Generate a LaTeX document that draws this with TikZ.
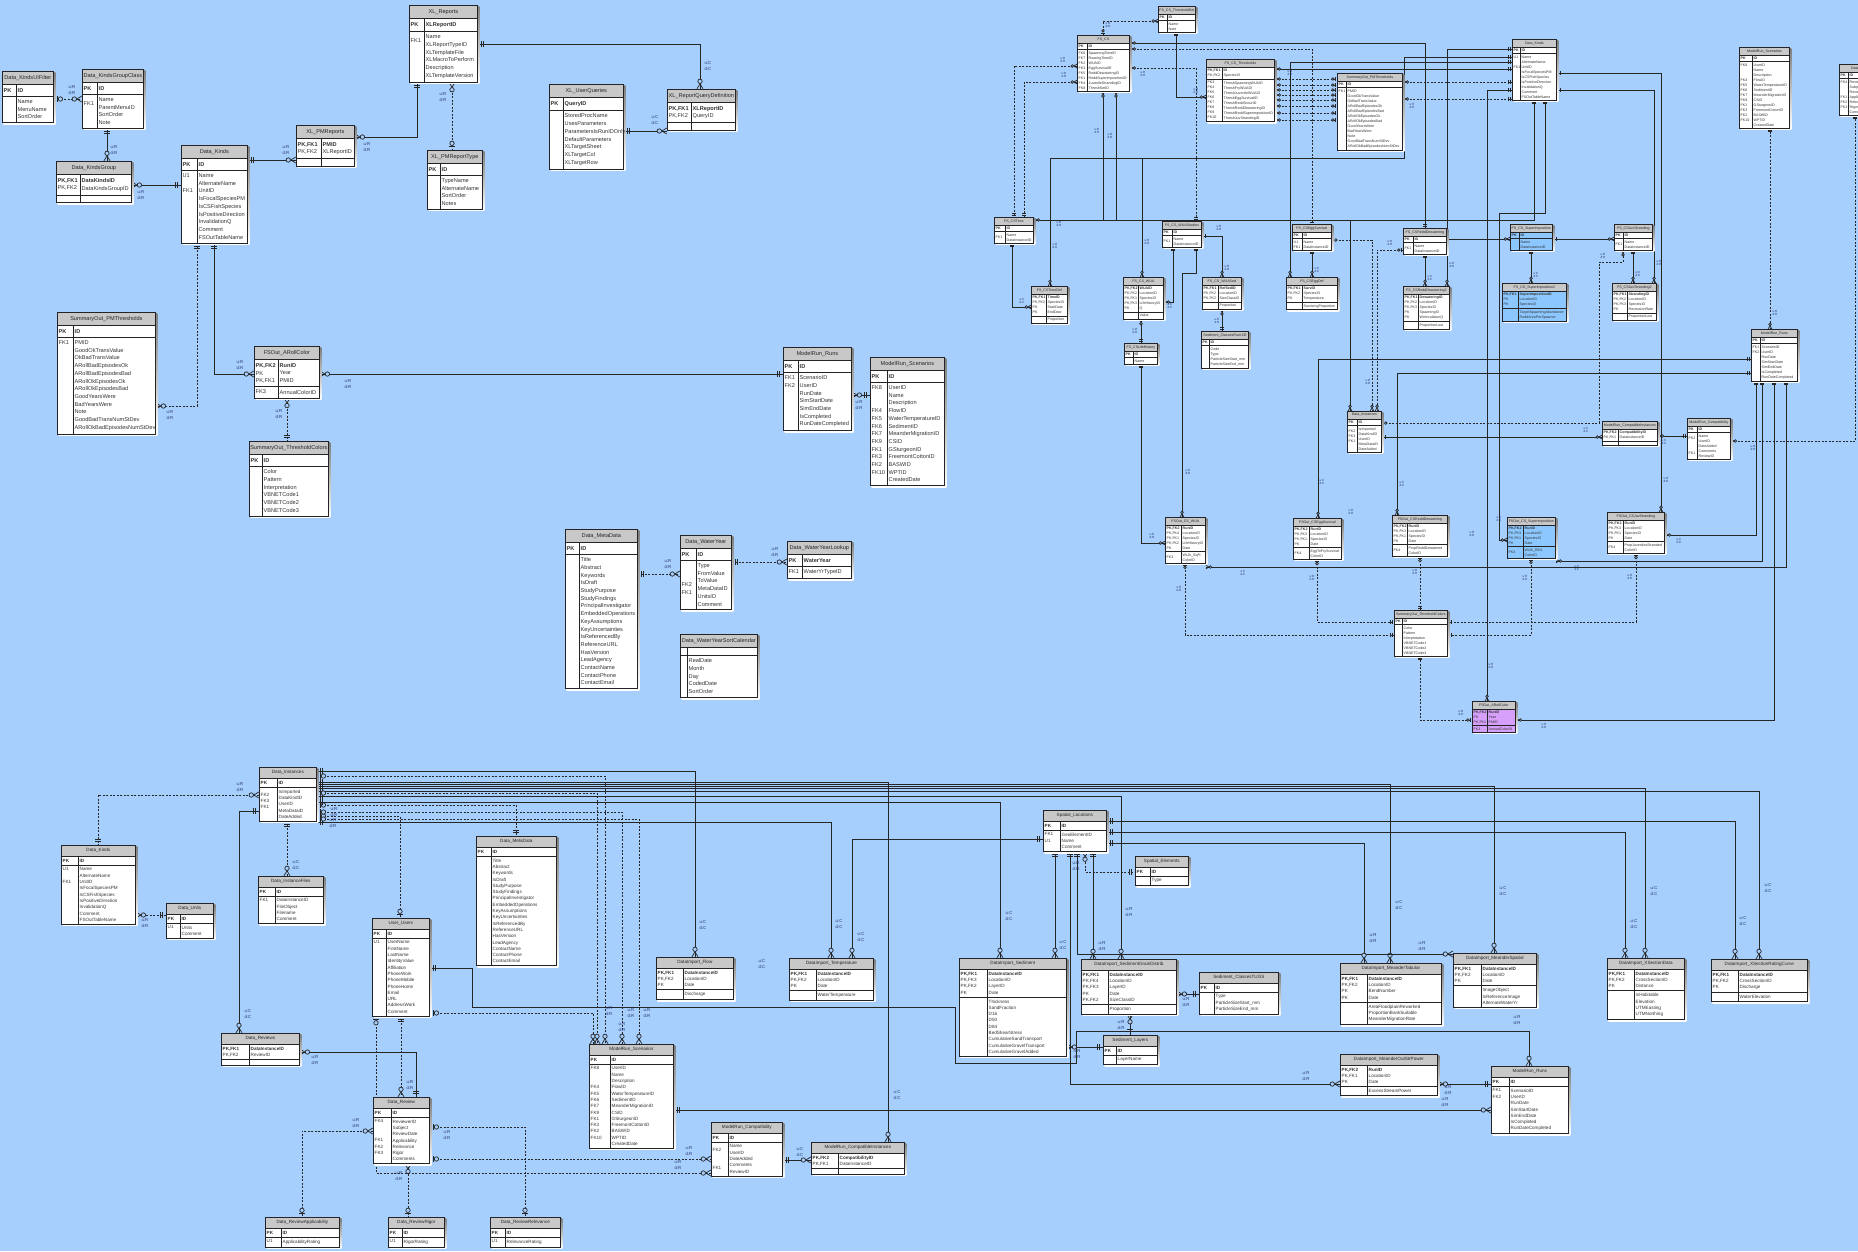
\documentclass[tikz,border=0pt]{standalone}
\usepackage{fontspec}
\setmainfont{Liberation Sans}
\usetikzlibrary{calc,fit,decorations.markings}

\definecolor{bgcol}{RGB}{166,207,253}
\definecolor{ttlgray}{RGB}{200,200,200}
\definecolor{tabline}{RGB}{35,35,40}
\definecolor{shade}{RGB}{85,90,105}
\definecolor{lblcol}{RGB}{40,50,110}
\definecolor{blu}{RGB}{140,200,255}
\definecolor{purp}{RGB}{214,160,250}

\pgfdeclarelayer{bg}
\pgfdeclarelayer{conn}
\pgfdeclarelayer{tabbg}
\pgfsetlayers{bg,conn,tabbg,main}

\newcommand{\fbig}{\fontsize{5.6}{7.7}\selectfont}
\newcommand{\fmid}{\fontsize{4.6}{6.3}\selectfont}
\newcommand{\fsml}{\fontsize{3.6}{5}\selectfont}
\newcommand{\kb}[1]{\textbf{#1}}
\def\erfont{\fbig}
\def\erth{13}
\def\erpad{3.5pt}
\def\tabfill{white}

\tikzset{
  ttl/.style={draw=tabline, fill=ttlgray, line width=0.7pt, inner sep=0pt, font=\erfont, text=black!85, anchor=north west},
  fld/.style={inner xsep=1.5pt, inner ysep=\erpad, align=left, font=\erfont, text=black!80, anchor=north west},
  tabrule/.style={draw=tabline, line width=0.7pt},
  conn/.style={draw=black!85, line width=0.8pt},
  dsh/.style={conn, dash pattern=on 2pt off 1.5pt},
  lbl/.style={font=\fontsize{4.3}{5.2}\selectfont, text=lblcol, align=center, inner sep=0pt},
  slbl/.style={font=\fontsize{3}{3.6}\selectfont, text=lblcol, align=center, inner sep=0pt},
  endone/.style={postaction={decorate,decoration={markings,mark=at position 1 with
    {\draw[solid,line width=0.7pt,scale=#1] (-3pt,-3pt)--(-3pt,3pt) (-5pt,-3pt)--(-5pt,3pt);}}}},
  endone/.default=1,
  startone/.style={postaction={decorate,decoration={markings,mark=at position 0 with
    {\draw[solid,line width=0.7pt,scale=#1] (3pt,-3pt)--(3pt,3pt) (5pt,-3pt)--(5pt,3pt);}}}},
  startone/.default=1,
  endmany/.style={postaction={decorate,decoration={markings,mark=at position 1 with
    {\draw[solid,line width=0.7pt,scale=#1] (-5pt,0)--(0,3pt) (-5pt,0)--(0,-3pt);
     \draw[solid,line width=0.7pt,fill=bgcol,scale=#1] (-7.5pt,0) circle (2.2pt);}}}},
  endmany/.default=1,
  startmany/.style={postaction={decorate,decoration={markings,mark=at position 0 with
    {\draw[solid,line width=0.7pt,scale=#1] (5pt,0)--(0,3pt) (5pt,0)--(0,-3pt);
     \draw[solid,line width=0.7pt,fill=bgcol,scale=#1] (7.5pt,0) circle (2.2pt);}}}},
  startmany/.default=1,
  endzone/.style={postaction={decorate,decoration={markings,mark=at position 1 with
    {\draw[solid,line width=0.7pt,scale=#1] (-3pt,-3pt)--(-3pt,3pt);
     \draw[solid,line width=0.7pt,fill=bgcol,scale=#1] (-6.5pt,0) circle (2.2pt);}}}},
  endzone/.default=1,
  startzone/.style={postaction={decorate,decoration={markings,mark=at position 0 with
    {\draw[solid,line width=0.7pt,scale=#1] (3pt,-3pt)--(3pt,3pt);
     \draw[solid,line width=0.7pt,fill=bgcol,scale=#1] (6.5pt,0) circle (2.2pt);}}}},
  startzone/.default=1,
}

% table: name, top left, width, key width, title, pk keys, pk fields, keys, fields
\newcommand{\ertab}[9]{%
  \node[ttl, minimum width=#3pt, minimum height=\erth pt] (#1-t) at (#2) {#5};
  \node[fld, text width=\dimexpr#3pt-#4pt-3pt\relax] (#1-pf) at ($(#1-t.south west)+(#4,0)$) {#7};
  \node[fld, text width=\dimexpr#4pt-3pt\relax] (#1-pk) at (#1-t.south west) {#6};
  \node[fld, text width=\dimexpr#3pt-#4pt-3pt\relax] (#1-af) at ($(#1-t.south west |- #1-pf.south)+(#4,0)$) {#9};
  \node[fld, text width=\dimexpr#4pt-3pt\relax] (#1-ak) at (#1-t.south west |- #1-pf.south) {#8};
  \coordinate (#1-b) at (#1-t.south east |- #1-af.south);
  \begin{pgfonlayer}{tabbg}
    \fill[shade] ($(#1-t.north west)+(1.6,1.6)$) rectangle ($(#1-b)+(1.6,1.6)$);
    \fill[\tabfill] (#1-t.south west) rectangle (#1-b);
  \end{pgfonlayer}
  \draw[tabrule] (#1-t.south west) rectangle (#1-t.south east |- #1-pf.south)
    (#1-t.south west |- #1-pf.south) rectangle (#1-b)
    ($(#1-t.south west)+(#4,0)$) -- ($(#1-t.south west |- #1-b)+(#4,0)$);
  \node[fit=(#1-t)(#1-b), inner sep=0pt] (#1) {};
}

\begin{document}
\begin{tikzpicture}[x=1pt, y=-1pt]
\useasboundingbox (0,0) rectangle (1858,1251);
\begin{pgfonlayer}{bg}
  \fill[bgcol] (0,0) rectangle (1858,1251);
\end{pgfonlayer}

% ---- upper left tables
\ertab{kuif}{2,71}{51}{14}{Data\_KindsUIFilter}{\kb{PK}}{\kb{ID}}{~}{Name\\MenuName\\SortOrder}
\ertab{kgc}{82,69}{61}{15}{Data\_KindsGroupClass}{\kb{PK}}{\kb{ID}}{~\\FK1}{Name\\ParentMenuID\\SortOrder\\Note}
\ertab{kg}{56,161}{75}{24}{Data\_KindsGroup}{\kb{PK,FK1}\\PK,FK2}{\kb{DataKindsID}\\DataKindsGroupID}{~}{~}
\ertab{kinds}{181,145}{66}{16}{Data\_Kinds}{\kb{PK}}{\kb{ID}}{U1\\~\\FK1}{Name\\AlternateName\\UnitID\\IsFocalSpeciesPM\\IsCSFishSpecies\\IsPositiveDirection\\InvalidationQ\\Comment\\FSOutTableName}
\ertab{xpmr}{296,125}{58}{25}{XL\_PMReports}{\kb{PK,FK1}\\PK,FK2}{\kb{PMID}\\XLReportID}{~}{~}
\ertab{xrep}{409,5}{68}{15}{XL\_Reports}{\kb{PK}}{\kb{XLReportID}}{~\\FK1}{Name\\XLReportTypeID\\XLTemplateFile\\XLMacroToPerform\\Description\\XLTemplateVersion}
\ertab{xpmt}{427,150}{55}{13}{XL\_PMReportType}{\kb{PK}}{\kb{ID}}{~}{TypeName\\AlternateName\\SortOrder\\Notes}
\ertab{pmth}{57,312}{98}{16}{SummaryOut\_PMThresholds}{\kb{PK}}{\kb{ID}}{FK1}{PMID\\GoodOkTransValue\\OkBadTransValue\\ARollBadEpisodesOk\\ARollBadEpisodesBad\\ARollOkEpisodesOk\\ARollOkEpisodesBad\\GoodYearsWere\\BadYearsWere\\Note\\GoodBadTransNumStDev\\ARollOkBadEpisodesNumStDev}
\ertab{arc}{254,346}{65}{24}{FSOut\_ARollColor}{\kb{PK,FK2}\\PK\\PK,FK1}{\kb{RunID}\\Year\\PMID}{FK3}{AnnualColorID}
\ertab{thc}{249,441}{79}{13}{SummaryOut\_ThresholdColors}{\kb{PK}}{\kb{ID}}{~}{Color\\Pattern\\Interpretation\\VBNETCode1\\VBNETCode2\\VBNETCode3}
\ertab{xuq}{549,84}{74}{14}{XL\_UserQueries}{\kb{PK}}{\kb{QueryID}}{~}{StoredProcName\\UsesParameters\\ParametersIsRunIDOnly\\DefaultParameters\\XLTargetSheet\\XLTargetCol\\XLTargetRow}
\ertab{xrqd}{667,89}{68}{24}{XL\_ReportQueryDefinition}{\kb{PK,FK1}\\PK,FK2}{\kb{XLReportID}\\QueryID}{~}{~}
\ertab{runs}{783,347}{68}{15}{ModelRun\_Runs}{\kb{PK}}{\kb{ID}}{FK1\\FK2}{ScenarioID\\UserID\\RunDate\\SimStartDate\\SimEndDate\\IsCompleted\\RunDateCompleted}
\ertab{scen}{870,357}{74}{17}{ModelRun\_Scenarios}{\kb{PK}}{\kb{ID}}{FK8\\~\\~\\FK4\\FK5\\FK6\\FK7\\FK9\\FK1\\FK3\\FK2\\FK10}{UserID\\Name\\Description\\FlowID\\WaterTemperatureID\\SedimentID\\MeanderMigrationID\\CSID\\GSturgeonID\\FreemontCottonID\\BASWID\\WPTID\\CreatedDate}
\ertab{meta}{565,529}{72}{14}{Data\_MetaData}{\kb{PK}}{\kb{ID}}{~}{Title\\Abstract\\Keywords\\IsDraft\\StudyPurpose\\StudyFindings\\PrincipalInvestigator\\EmbeddedOperations\\KeyAssumptions\\KeyUncertainties\\IsReferencedBy\\ReferenceURL\\HasVersion\\LeadAgency\\ContactName\\ContactPhone\\ContactEmail}
\ertab{wy}{680,535}{51}{16}{Data\_WaterYear}{\kb{PK}}{\kb{ID}}{~\\~\\~\\FK2\\FK1}{Type\\FromValue\\ToValue\\MetaDataID\\UnitsID\\Comment}
\ertab{wyl}{787,541}{64}{15}{Data\_WaterYearLookup}{\kb{PK}}{\kb{WaterYear}}{FK1}{WaterYrTypeID}
\ertab{wysc}{680,634}{77}{7}{Data\_WaterYearSortCalendar}{~}{~}{~}{RealDate\\Month\\Day\\CodedDate\\SortOrder}

% ---- lower tables
\def\erfont{\fmid}\def\erth{10.5}\def\erpad{2.6pt}
\ertab{bdi}{259,767}{57}{18}{Data\_Instances}{\kb{PK}}{\kb{ID}}{~\\FK2\\FK3\\FK1}{IsImported\\DataKindID\\UserID\\MetaDataID\\DateAdded}
\ertab{bkinds}{61,845}{74}{17}{Data\_Kinds}{\kb{PK}}{\kb{ID}}{U1\\~\\FK1}{Name\\AlternateName\\UnitID\\IsFocalSpeciesPM\\IsCSFishSpecies\\IsPositiveDirection\\InvalidationQ\\Comment\\FSOutTableName}
\ertab{bunits}{166,903}{47}{14}{Data\_Units}{\kb{PK}}{\kb{ID}}{U1}{Units\\Comment}
\ertab{bfiles}{258,876}{65}{17}{Data\_InstanceFiles}{\kb{PK}}{\kb{ID}}{FK1}{DataInstanceID\\FileObject\\Filename\\Comment}
\ertab{bmeta}{476,836}{80}{15}{Data\_MetaData}{\kb{PK}}{\kb{ID}}{~}{Title\\Abstract\\Keywords\\IsDraft\\StudyPurpose\\StudyFindings\\PrincipalInvestigator\\EmbeddedOperations\\KeyAssumptions\\KeyUncertainties\\IsReferencedBy\\ReferenceURL\\HasVersion\\LeadAgency\\ContactName\\ContactPhone\\ContactEmail}
\ertab{users}{372,918}{57}{14}{User\_Users}{\kb{PK}}{\kb{ID}}{U1}{UserName\\FirstName\\LastName\\IdentityValue\\Affiliation\\PhoneWork\\PhoneMobile\\PhoneHome\\Email\\URL\\AddressWork\\Comment}
\ertab{reviews}{221,1033}{78}{28}{Data\_Reviews}{\kb{PK,FK1}\\PK,FK2}{\kb{DataInstanceID}\\ReviewID}{~}{~}
\ertab{review}{373,1097}{56}{18}{Data\_Review}{\kb{PK}}{\kb{ID}}{FK4\\~\\~\\FK1\\FK2\\FK3}{ReviewerID\\Subject\\ReviewDate\\Applicability\\Relevance\\Rigor\\Comments}
\ertab{rapp}{265,1217}{74}{16}{Data\_ReviewApplicability}{\kb{PK}}{\kb{ID}}{U1}{ApplicabilityRating}
\ertab{rrig}{388,1217}{56}{14}{Data\_ReviewRigor}{\kb{PK}}{\kb{ID}}{U1}{RigorRating}
\ertab{rrel}{490,1217}{70}{15}{Data\_ReviewRelevance}{\kb{PK}}{\kb{ID}}{U1}{RelevanceRating}
\ertab{bscen}{589,1044}{84}{21}{ModelRun\_Scenarios}{\kb{PK}}{\kb{ID}}{FK8\\~\\~\\FK4\\FK5\\FK6\\FK7\\FK9\\FK1\\FK3\\FK2\\FK10}{UserID\\Name\\Description\\FlowID\\WaterTemperatureID\\SedimentID\\MeanderMigrationID\\CSID\\GSturgeonID\\FreemontCottonID\\BASWID\\WPTID\\CreatedDate}
\ertab{flow}{656,957}{77}{27}{DataImport\_Flow}{\kb{PK,FK1}\\PK,FK2\\PK}{\kb{DataInstanceID}\\LocationID\\Date}{~}{Discharge}
\ertab{temp}{789,958}{84}{27}{DataImport\_Temperature}{\kb{PK,FK1}\\PK,FK2\\PK}{\kb{DataInstanceID}\\LocationID\\Date}{~}{WaterTemperature}
\ertab{sed}{959,958}{107}{28}{DataImport\_Sediment}{\kb{PK,FK1}\\PK,FK3\\PK,FK2\\PK}{\kb{DataInstanceID}\\LocationID\\LayerID\\Date}{~}{Thickness\\SandFraction\\D16\\D50\\D84\\BedShearStress\\CumulativeSandTransport\\CumulativeGravelTransport\\CumulativeGravelAdded}
\ertab{sloc}{1043,810}{63}{17}{Spatial\_Locations}{\kb{PK}}{\kb{ID}}{FK1\\U1}{GeoElementID\\Name\\Comment}
\ertab{selem}{1135,856}{53}{15}{Spatial\_Elements}{\kb{PK}}{\kb{ID}}{~}{Type}
\ertab{sgd}{1081,959}{95}{27}{DataImport\_SedimentGrainDistrib}{\kb{PK,FK1}\\PK,FK4\\PK,FK3\\PK\\PK,FK2}{\kb{DataInstanceID}\\LocationID\\LayerID\\Date\\SizeClassID}{~}{Proportion}
\ertab{slay}{1103,1035}{54}{13}{Sediment\_Layers}{\kb{PK}}{\kb{ID}}{~}{LayerName}
\ertab{compat}{711,1122}{71}{17}{ModelRun\_Compatibility}{\kb{PK}}{\kb{ID}}{~\\FK2\\~\\~\\FK1}{Name\\UserID\\DateAdded\\Comments\\ReviewID}
\ertab{compinst}{811,1142}{93}{27}{ModelRun\_CompatibleInstances}{\kb{PK,FK2}\\PK,FK1}{\kb{CompatibilityID}\\DataInstanceID}{~}{~}
\ertab{tugs}{1199,972}{79}{15}{Sediment\_ClassesTUGS}{\kb{PK}}{\kb{ID}}{~}{Type\\ParticleSizeStart\_mm\\ParticleSizeEnd\_mm}
\ertab{mtab}{1340,963}{101}{27}{DataImport\_MeanderTabular}{\kb{PK,FK1}\\PK,FK2\\PK\\PK}{\kb{DataInstanceID}\\LocationID\\BendNumber\\Date}{~}{AreaFloodplainReworked\\ProportionBankSuitable\\MeanderMigrationRate}
\ertab{mspat}{1453,953}{83}{28}{DataImport\_MeanderSpatial}{\kb{PK,FK1}\\PK,FK2\\PK}{\kb{DataInstanceID}\\LocationID\\Date}{~}{ImageObject\\IsReferenceImage\\AlternateWaterYr}
\ertab{xsd}{1607,958}{77}{27}{DataImport\_XSectionData}{\kb{PK,FK1}\\PK,FK2\\PK}{\kb{DataInstanceID}\\CrossSectionID\\Distance}{~}{IsHabitable\\Elevation\\UTMEasting\\UTMNorthing}
\ertab{xsrc}{1711,959}{96}{27}{DataImport\_XSectionRatingCurve}{\kb{PK,FK1}\\PK,FK2\\PK}{\kb{DataInstanceID}\\CrossSectionID\\Discharge}{~}{WaterElevation}
\ertab{mosp}{1340,1054}{97}{27}{DataImport\_MeanderOutStrPower}{\kb{PK,FK2}\\PK,FK1\\PK}{\kb{RunID}\\LocationID\\Date}{~}{ExcessStreamPower}
\ertab{bruns}{1491,1066}{77}{18}{ModelRun\_Runs}{\kb{PK}}{\kb{ID}}{FK1\\FK2}{ScenarioID\\UserID\\RunDate\\SimStartDate\\SimEndDate\\IsCompleted\\RunDateCompleted}

% ---- upper right tables
\def\erfont{\fsml}\def\erth{7.5}\def\erpad{1.8pt}
\ertab{fsts}{1158,6}{37}{9}{FS\_CS\_ThresholdSet}{\kb{PK}}{\kb{ID}}{~}{Name\\Note}
\ertab{fscs}{1077,35}{52}{10}{FS\_CS}{\kb{PK}}{\kb{ID}}{FK6\\FK7\\FK2\\FK3\\FK5\\FK1\\FK4\\FK8}{SpawningTimeID\\RearingTimeID\\WUAID\\EggSurvivalID\\ReddDewateringID\\ReddSuperimpositionID\\JuvenileStrandingID\\ThreshSetID}
\ertab{fsth}{1206,59}{68}{16}{FS\_CS\_Thresholds}{\kb{PK,FK1}\\PK,FK2}{\kb{ID}\\SpeciesID}{FK3\\FK4\\FK5\\FK6\\FK7\\FK8\\FK9\\FK10}{ThreshSpawningWUAID\\ThreshFryWUAID\\ThreshJuvenileWUAID\\ThreshEggSurvivalID\\ThreshReddScourID\\ThreshReddDewateringID\\ThreshReddSuperimpositionID\\ThreshJuvStrandingID}
\ertab{pmth2}{1337,73}{65}{9}{SummaryOut\_PMThresholds}{\kb{PK}}{\kb{ID}}{FK1}{PMID\\GoodOkTransValue\\OkBadTransValue\\ARollBadEpisodesOk\\ARollBadEpisodesBad\\ARollOkEpisodesOk\\ARollOkEpisodesBad\\GoodYearsWere\\BadYearsWere\\Note\\GoodBadTransNumStDev\\ARollOkBadEpisodesNumStDev}
\ertab{fstime}{994,217}{39}{11}{FS\_CSTime}{\kb{PK}}{\kb{ID}}{~\\FK1}{Name\\DataInstanceID}
\ertab{wuast}{1162,221}{39}{10}{FS\_CS\_WUAStudies}{\kb{PK}}{\kb{ID}}{~\\FK1}{Name\\DataInstanceID}
\ertab{eggs}{1292,224}{39}{10}{FS\_CSEggSurvival}{\kb{PK}}{\kb{ID}}{U1\\FK1}{Name\\DataInstanceID}
\ertab{redd}{1403,228}{43}{10}{FS\_CSReddDewatering}{\kb{PK}}{\kb{ID}}{~\\FK1}{Name\\DataInstanceID}
\ertab{timedef}{1031,286}{36}{15}{FS\_CSTimeDef}{\kb{PK,FK1}\\PK,FK2\\PK\\PK}{\kb{TimeID}\\SpeciesID\\StartDate\\EndDate}{~}{Proportion}
\ertab{wua}{1123,277}{40}{15}{FS\_CS\_WUA}{\kb{PK,FK2}\\PK,FK2\\PK,FK1\\PK,FK3\\PK}{\kb{WUAID}\\LocationID\\SpeciesID\\LifeHistoryID\\Q}{~}{Value}
\ertab{wuased}{1202,277}{39}{16}{FS\_CS\_WUASed}{\kb{PK,FK1}\\PK,FK2\\PK,FK2}{\kb{RefSedID}\\LocationID\\SizeClassID}{~}{Proportion}
\ertab{eggdef}{1286,277}{51}{16}{FS\_CSEggDef}{\kb{PK,FK1}\\PK,FK2\\PK}{\kb{SurvID}\\SpeciesID\\Temperature}{~}{SurvivingProportion}
\ertab{redd2}{1403,286}{46}{15}{FS\_CSReddDewatering2}{\kb{PK,FK1}\\PK,FK2\\PK,FK3\\PK\\PK}{\kb{DewateringID}\\LocationID\\SpeciesID\\SpawningID\\WeInculationQ}{~}{ProportionLost}
\ertab{kinds2}{1512,39}{44}{8}{Data\_Kinds}{\kb{PK}}{\kb{ID}}{U1\\~\\FK1}{Name\\AlternateName\\UnitID\\IsFocalSpeciesPM\\IsCSFishSpecies\\IsPositiveDirection\\InvalidationQ\\Comment\\FSOutTableName}
\ertab{scen2}{1739,47}{50}{13}{ModelRun\_Scenarios}{\kb{PK}}{\kb{ID}}{FK8\\~\\~\\FK4\\FK5\\FK6\\FK7\\FK9\\FK1\\FK3\\FK2\\FK10}{UserID\\Name\\Description\\FlowID\\WaterTemperatureID\\SedimentID\\MeanderMigrationID\\CSID\\GSturgeonID\\FreemontCottonID\\BASWID\\WPTID\\CreatedDate}
\ertab{review2}{1839,64}{45}{9}{Data\_Review}{\kb{PK}}{\kb{ID}}{FK4\\~\\~\\FK1\\FK2\\FK3}{ReviewerID\\Subject\\ReviewDate\\Applicability\\Relevance\\Rigor\\Comments}
\def\tabfill{blu}
\ertab{sup}{1510,224}{42}{9}{FS\_CS\_Superimposition}{\kb{PK}}{\kb{ID}}{~}{Name\\DataInstanceID}
\ertab{sup2}{1502,283}{64}{16}{FS\_CS\_Superimposition2}{\kb{PK,FK1}\\PK\\PK}{\kb{SuperimpositionID}\\LocationID\\SpeciesID}{~}{TargetSpawningAbundance\\ReddAreaPerSpawner}
\ertab{osup}{1507,517}{48}{16}{FSOut\_CS\_Superimposition}{\kb{PK,FK2}\\PK,FK3\\PK,FK1\\PK}{\kb{RunID}\\LocationID\\SpeciesID\\Date}{~\\FK4}{WUA\_REA\\ColorID}
\def\tabfill{purp}
\ertab{oarc}{1472,701}{43}{15}{FSOut\_ARollColor}{\kb{PK,FK2}\\PK\\PK,FK1}{\kb{RunID}\\Year\\PMID}{FK3}{AnnualColorID}
\def\tabfill{white}
\ertab{juv}{1614,224}{38}{9}{FS\_CSJuvStranding}{\kb{PK}}{\kb{ID}}{~\\FK1}{Name\\DataInstanceID}
\ertab{juv2}{1612,283}{44}{15}{FS\_CSJuvStranding2}{\kb{PK,FK1}\\PK,FK2\\PK,FK3\\PK}{\kb{StrandingID}\\LocationID\\SpeciesID\\RecessionRate}{~}{ProportionLost}
\ertab{lifeh}{1124,343}{33}{9}{FS\_CSLifeHistory}{\kb{PK}}{\kb{ID}}{~}{Name}
\ertab{river2d}{1201,331}{47}{8}{Sediment\_ClassesRiver2D}{\kb{PK}}{\kb{ID}}{~}{Code\\Type\\ParticleSizeStart\_mm\\ParticleSizeEnd\_mm}
\ertab{di2}{1347,411}{34}{10}{Data\_Instances}{\kb{PK}}{\kb{ID}}{~\\FK2\\FK3\\FK1}{IsImported\\DataKindID\\UserID\\MetaDataID\\DateAdded}
\ertab{owua}{1165,517}{40}{16}{FSOut\_CS\_WUA}{\kb{PK,FK2}\\PK,FK4\\PK,FK1\\PK,FK2\\PK}{\kb{RunID}\\LocationID\\SpeciesID\\LifeHistoryID\\Date}{~\\FK3}{WUA\_SqFt\\ColorID}
\ertab{oegg}{1293,518}{48}{16}{FSOut\_CSEggSurvival}{\kb{PK,FK2}\\PK,FK3\\PK,FK1\\PK}{\kb{RunID}\\LocationID\\SpeciesID\\Date}{~\\FK4}{EggToFrySurvival\\ColorID}
\ertab{oredd}{1392,515}{55}{15}{FSOut\_CSReddDewatering}{\kb{PK,FK2}\\PK,FK3\\PK,FK1\\PK}{\kb{RunID}\\LocationID\\SpeciesID\\Date}{~\\FK4}{PropReddDewatered\\ColorID}
\ertab{thc2}{1394,610}{53}{8}{SummaryOut\_ThresholdColors}{\kb{PK}}{\kb{ID}}{~}{Color\\Pattern\\Interpretation\\VBNETCode1\\VBNETCode2\\VBNETCode3}
\ertab{runs2}{1751,329}{46}{9}{ModelRun\_Runs}{\kb{PK}}{\kb{ID}}{FK1\\FK2}{ScenarioID\\UserID\\RunDate\\SimStartDate\\SimEndDate\\IsCompleted\\RunDateCompleted}
\ertab{ci2}{1602,421}{55}{16}{ModelRun\_CompatibleInstances}{\kb{PK,FK2}\\PK,FK1}{\kb{CompatibilityID}\\DataInstanceID}{~}{~}
\ertab{compat2}{1687,418}{43}{10}{ModelRun\_Compatibility}{\kb{PK}}{\kb{ID}}{~\\FK2\\~\\~\\FK1}{Name\\UserID\\DateAdded\\Comments\\ReviewID}
\ertab{ojuv}{1607,512}{57}{16}{FSOut\_CSJuvStranding}{\kb{PK,FK2}\\PK,FK3\\PK,FK1\\PK}{\kb{RunID}\\LocationID\\SpeciesID\\Date}{~\\FK4}{PropJuvenilesStranded\\ColorID}

\begin{pgfonlayer}{conn}
% upper left relationships
\draw[dsh, startzone, endmany] (kuif.east |- 0,99) -- (kgc.west |- 0,99);
\draw[conn, startone, endmany] (kgc.south -| 107,0) -- (kg.north -| 107,0);
\draw[conn, startmany, endone] (kg.east |- 0,185) -- (kinds.west |- 0,185);
\draw[conn, startone, endmany] (kinds.east |- 0,160) -- (xpmr.west |- 0,160);
\draw[conn, startmany, endone] (xpmr.east |- 0,137) -| (xrep.south -| 417,0);
\draw[dsh, startmany, endzone] (xrep.south -| 452,0) -- (xpmt.north -| 452,0);
\draw[conn, startone, endmany] (xrep.east |- 0,44) -| (xrqd.north -| 700,0);
\draw[conn, startone, endmany] (xuq.east |- 0,131) -- (xrqd.west |- 0,131);
\draw[dsh, startone, endmany] (kinds.south -| 197,0) |- (pmth.east |- 0,406);
\draw[conn, startone, endmany] (kinds.south -| 214,0) |- (arc.west |- 0,374);
\draw[conn, startmany, endone] (arc.east |- 0,374) -- (runs.west |- 0,374);
\draw[dsh, startmany, endone] (arc.south -| 287,0) -- (thc.north -| 287,0);
\draw[conn, startmany, endone] (runs.east |- 0,395) -- (scen.west |- 0,395);
\draw[dsh, startone, endmany] (meta.east |- 0,574) -- (wy.west |- 0,574);
\draw[dsh, startone, endmany] (wy.east |- 0,562) -- (wyl.west |- 0,562);

% lower relationships
\draw[dsh, startmany, endone] (bdi.west |- 0,795) -| (bkinds.north -| 98,0);
\draw[conn, startone, endmany] (bdi.west |- 0,811) -| (reviews.north -| 239,0);
\draw[dsh, startone, endmany] (bdi.south -| 287,0) -- (bfiles.north -| 287,0);
\draw[dsh, startmany, endone] (bkinds.east |- 0,915) -- (bunits.west |- 0,915);
\draw[dsh, startzone, endmany] (users.south -| 376,0) |- (compat.west |- 0,1173);
\draw[dsh, startzone, endmany] (review.east |- 0,1159) -- (compat.west |- 0,1159);
\draw[dsh, startzone, endzone] (review.east |- 0,1127) -| (rrel.north -| 525,0);
\draw[dsh, startmany, endzone] (review.west |- 0,1131) -| (rapp.north -| 302,0);
\draw[dsh, startmany, endzone] (review.south -| 408,0) -- (rrig.north -| 408,0);
\draw[dsh, startone, endmany] (users.south -| 401,0) -- (review.north -| 401,0);
\draw[conn, startmany, endone] (reviews.east |- 0,1052) -| (review.north -| 416,0);
\draw[conn, startone, endmany] (users.east |- 0,968) -| (472,1007) -| (955,1063) -| (1076,1031) -| (bruns.north -| 1529,0);
\draw[dsh, startzone, endmany] (users.east |- 0,1013) -| (bscen.north -| 593,0);
\draw[dsh, startzone, endone] (bdi.east |- 0,805) -| (bmeta.north -| 516,0);
\draw[dsh, startzone, endzone] (bdi.east |- 0,816) -| (users.north -| 400,0);
\draw[conn, startone, endmany] (bdi.east |- 0,771) -| (flow.north -| 695,0);
\draw[conn, startone, endmany] (bdi.east |- 0,782) -| (compinst.north -| 888,0);
\draw[conn, startone, endmany] (bdi.east |- 0,822) -| (temp.north -| 831,0);
\draw[conn, startone, endmany] (bdi.east |- 0,802) -| (sed.north -| 1000,0);
\draw[conn, startone, endmany] (bdi.east |- 0,796) -| (sgd.north -| 1121,0);
\draw[conn, startone, endmany] (bdi.east |- 0,784) -| (mtab.north -| 1390,0);
\draw[conn, startone, endmany] (bdi.east |- 0,786) -| (mspat.north -| 1494,0);
\draw[conn, startone, endmany] (bdi.east |- 0,788) -| (xsd.north -| 1645,0);
\draw[conn, startone, endmany] (bdi.east |- 0,791) -| (xsrc.north -| 1759,0);
\draw[dsh, startzone, endmany] (bdi.east |- 0,776) -| (bscen.north -| 605,0);
\draw[dsh, startzone, endmany] (bdi.east |- 0,793) -| (bscen.north -| 597,0);
\draw[dsh, startzone, endmany] (bdi.east |- 0,812) -| (bscen.north -| 622,0);
\draw[dsh, startzone, endmany] (bdi.east |- 0,819) -| (bscen.north -| 639,0);
\draw[conn, startone, endmany] (sloc.west |- 0,839) -| (temp.north -| 852,0);
\draw[conn, startone, endmany] (sloc.south -| 1055,0) -- (sed.north -| 1055,0);
\draw[conn, startone, endmany] (sloc.south -| 1093,0) -- (sgd.north -| 1093,0);
\draw[dsh, startmany, endone] (sloc.south -| 1085,0) |- (selem.west |- 0,872);
\draw[conn, startone, endmany] (sloc.south -| 1077,0) |- (mspat.west |- 0,954);
\draw[conn, startone, endmany] (sloc.south -| 1070,0) |- (mosp.west |- 0,1084);
\draw[conn, startone, endmany] (sloc.east |- 0,821) -| (xsrc.north -| 1735,0);
\draw[conn, startone, endmany] (sloc.east |- 0,832) -| (xsd.north -| 1625,0);
\draw[conn, startone, endmany] (sloc.east |- 0,843) -| (mtab.north -| 1364,0);
\draw[conn, startmany, endone] (sgd.east |- 0,994) -- (tugs.west |- 0,994);
\draw[conn, startmany, endone] (sgd.south -| 1130,0) -- (slay.north -| 1130,0);
\draw[conn, startmany, endone] (sed.east |- 0,1047) -- (slay.west |- 0,1047);
\draw[conn, startone, endmany] (bscen.east |- 0,1110) -- (bruns.west |- 0,1110);
\draw[conn, startmany, endone] (mosp.east |- 0,1084) -- (bruns.west |- 0,1084);
\draw[conn, startone, endmany] (compat.east |- 0,1160) -- (compinst.west |- 0,1160);

% upper right relationships
\begin{scope}[conn/.append style={line width=0.55pt}]
\draw[dsh, startzone=.6, endmany=.6] (fscs.north -| 1103,0) |- (fsts.west |- 0,21);
\draw[conn, startone=.6, endmany=.6] (fsts.south -| 1176,0) |- (fsth.west |- 0,97);
\draw[dsh, startmany=.6, endone=.6] (fscs.west |- 0,66) -| (fstime.north -| 1014,0);
\draw[dsh, startmany=.6, endone=.6] (fscs.west |- 0,82) -| (fstime.north -| 1024,0);
\draw[conn, startmany=.6, endone=.6] (fscs.east |- 0,43) -| (redd.north -| 1425,0);
\draw[dsh, startmany=.6, endone=.6] (fscs.east |- 0,49) -| (eggs.north -| 1312,0);
\draw[dsh, startmany=.6, endone=.6] (fscs.east |- 0,68) -| (wuast.north -| 1196,0);
\coordinate (j1) at (1103,220);
\coordinate (j1b) at (1116,220);
\coordinate (j3) at (1350,220);
\coordinate (j2) at (1142,158);
\coordinate (j4) at (1447,239);
\draw[conn, startmany=.6, endone=.6] (fstime.east |- 0,220) -| (kinds2.south -| 1534,0);
\draw[conn, startmany=.6] (fscs.south -| 1103,0) -- (j1);
\draw[conn, startmany=.6] (fscs.south -| 1116,0) -- (j1b);
\draw[conn, endmany=.6] (j3) -- (di2.north -| 1350,0);
\draw[conn, startone=.6, endmany=.6] (kinds2.south -| 1545,0) |- (1499,213) |- (osup.west |- 0,540);
\draw[conn, startone=.6, endmany=.6] (kinds2.west |- 0,49) -| (redd2.north -| 1447,0);
\draw[conn, endmany=.6] (j4) -- (sup.west |- 0,239);
\draw[conn, startone=.6, endmany=.6] (sup.east |- 0,239) -- (juv.west |- 0,239);
\draw[conn, startone=.6, endmany=.6] (kinds2.east |- 0,73) -| (ojuv.north -| 1661,0);
\draw[conn, startone=.6, endmany=.6] (kinds2.east |- 0,90) -| (juv2.north -| 1654,0);
\draw[conn, startone=.6, endmany=.6] (kinds2.west |- 0,90) -| (oarc.north -| 1487,0);
\draw[conn, startone=.6, endmany=.6] (sup.south -| 1531,0) -- (sup2.north -| 1531,0);
\draw[conn, startone=.6, endmany=.6] (juv.south -| 1633,0) -- (juv2.north -| 1633,0);
\draw[dsh, startone=.6, endmany=.6] (scen2.south -| 1770,0) -- (runs2.north -| 1770,0);
\draw[dsh, startone=.6, endmany=.6] (review2.south -| 1855,0) |- (compat2.east |- 0,441);
\draw[conn, startmany=.6, endone=.6] (ci2.east |- 0,436) -- (compat2.west |- 0,436);
\draw[conn, startone=.6, endmany=.6] (di2.east |- 0,437) -- (ci2.west |- 0,437);
\draw[dsh, startzone=.6, endmany=.6] (di2.east |- 0,423) -| (1599,262) -| (juv.south -| 1623,0);
\draw[conn, startone=.6, endmany=.6] (runs2.west |- 0,359) -| (oegg.north -| 1318,0);
\draw[conn, startone=.6, endmany=.6] (runs2.west |- 0,373) -| (oredd.north -| 1397,0);
\draw[conn, startone=.6, endmany=.6] (runs2.south -| 1756,0) |- (ojuv.east |- 0,535);
\draw[conn, startone=.6, endmany=.6] (runs2.south -| 1762,0) |- (osup.east |- 0,561);
\draw[conn, startone=.6, endmany=.6] (runs2.south -| 1786,0) |- (owua.east |- 0,567);
\draw[conn, startone=.6, endmany=.6] (runs2.south -| 1774,0) |- (oarc.east |- 0,720);
\draw[conn, startone=.6, endmany=.6] (fstime.south -| 1012,0) |- (timedef.west |- 0,307);
\draw[conn, startone=.6, endmany=.6] (kinds2.west |- 0,57) -| (1404,158) -| (timedef.north -| 1050,0);
\draw[conn, endmany=.6] (j2) -- (wua.north -| 1142,0);
\draw[conn, startone=.6, endmany=.6] (wuast.south -| 1173,0) |- (wua.east |- 0,302);
\draw[conn, startone=.6, endmany=.6] (wuast.east |- 0,236) -| (wuased.north -| 1222,0);
\draw[conn, startone=.6, endmany=.6] (eggs.south -| 1312,0) -- (eggdef.north -| 1312,0);
\draw[conn, startone=.6, endmany=.6] (redd.south -| 1425,0) -- (redd2.north -| 1425,0);
\draw[conn, startmany=.6, endone=.6] (wua.south -| 1141,0) -- (lifeh.north -| 1141,0);
\draw[conn, startmany=.6, endone=.6] (wuased.south -| 1222,0) -- (river2d.north -| 1222,0);
\draw[conn, startone=.6, endmany=.6] (lifeh.south -| 1141,0) |- (owua.west |- 0,543);
\draw[conn, startone=.6, endmany=.6] (wuast.south -| 1196,0) |- (1182,273) -- (owua.north -| 1182,0);
\draw[dsh, startzone=.6, endmany=.6] (eggs.east |- 0,240) -| (di2.north -| 1372,0);
\draw[dsh, startzone=.6, endmany=.6] (redd.west |- 0,250) -| (di2.north -| 1377,0);
\draw[dsh, startzone=.6, endone=.6] (owua.south -| 1185,0) |- (thc2.west |- 0,635);
\draw[dsh, startzone=.6, endone=.6] (oegg.south -| 1317,0) |- (thc2.west |- 0,622);
\draw[dsh, startzone=.6, endone=.6] (oredd.south -| 1420,0) -- (thc2.north -| 1420,0);
\draw[dsh, startzone=.6, endone=.6] (osup.south -| 1531,0) |- (thc2.east |- 0,635);
\draw[dsh, startzone=.6, endone=.6] (ojuv.south -| 1636,0) |- (thc2.east |- 0,622);
\draw[dsh, startone=.6, endzone=.6] (thc2.south -| 1420,0) |- (oarc.west |- 0,720);
\foreach \yy in {79,85,90,95,100,106,113,120}
  \draw[dsh, startmany=.6, endzone=.6] (fsth.east |- 0,\yy) -- (pmth2.west |- 0,\yy);
\draw[conn, startmany=.6, endone=.6] (fsth.east |- 0,69) -- (kinds2.west |- 0,69);
\draw[dsh, startmany=.6, endone=.6] (pmth2.east |- 0,99) -- (kinds2.west |- 0,99);
\draw[dsh, startmany=.6, endone=.6] (pmth2.east |- 0,82) -- (kinds2.west |- 0,82);
\draw[conn, startmany=.6, endone=.6] (eggdef.north -| 1290,0) |- (kinds2.west |- 0,62);
\end{scope}
\end{pgfonlayer}

% cardinality labels
\foreach \x/\y/\q [count=\i] in {72/90/R, 114/150/R, 141/195/R, 286/150/R, 367/147/R, 443/97/R,
  708/66/C, 655/120/C, 170/415/R, 240/365/R, 348/384/R, 279/414/R, 859/405/R, 668/564/R, 775/552/R}
  \node[lbl] (lbt\i) at (\x,\y) {u:\q\\d:\q};
\foreach \x/\y/\q [count=\i] in {240/787/R, 296/865/C, 145/923/R, 248/1014/C, 315/1060/R, 410/1085/R,
  356/1123/R, 447/1135/R, 399/1176/R, 334/812/R, 333/823/R, 609/1011/R, 703/925/C, 839/924/C,
  861/937/C, 762/964/C, 1009/916/C, 1063/945/C, 1102/946/R, 1129/912/R, 1076/866/R, 1186/1002/R,
  1121/1025/R, 1077/1054/R, 897/1095/C, 689/1151/R, 678/1165/R, 800/1152/C, 631/1013/R, 647/1013/R,
  622/1027/R, 1399/905/C, 1373/938/R, 1422/946/R, 1503/891/C, 1654/891/C, 1634/924/C, 1768/888/C,
  1743/921/C, 1517/1020/R, 1306/1076/R, 1448/1090/R, 1445/1102/R}
  \node[lbl] (lbb\i) at (\x,\y) {u:\q\\d:\q};
\foreach \x/\y/\q [count=\i] in {1108/25/R, 1063/60/R, 1064/75/R, 1143/74/R, 1097/131/R, 1110/136/R,
  1059/224/R, 1055/246/R, 1147/242/R, 1219/228/R, 1022/301/C, 1170/306/C, 1227/268/R, 1317/270/C,
  1390/243/R, 1430/278/C, 1196/91/R, 1412/106/R, 1290/73/R, 1536/275/C, 1638/274/C, 1603/256/R,
  1452/265/R, 1659/263/R, 1775/313/R, 1135/331/R, 1217/321/R, 1188/472/R, 1152/536/R, 1243/573/C,
  1179/589/R, 1312/578/R, 1322/482/C, 1351/512/R, 1402/484/C, 1368/382/R, 1415/572/R, 1586/430/C,
  1664/442/C, 1666/480/R, 1679/541/C, 1472/534/R, 1499/519/R, 1577/568/C, 1525/578/R, 1630/577/R,
  1491/666/R, 1461/713/R, 1544/726/R, 1753/448/R}
  \node[slbl] (lbs\i) at (\x,\y) {u:\q\\d:\q};
\end{tikzpicture}
\end{document}
